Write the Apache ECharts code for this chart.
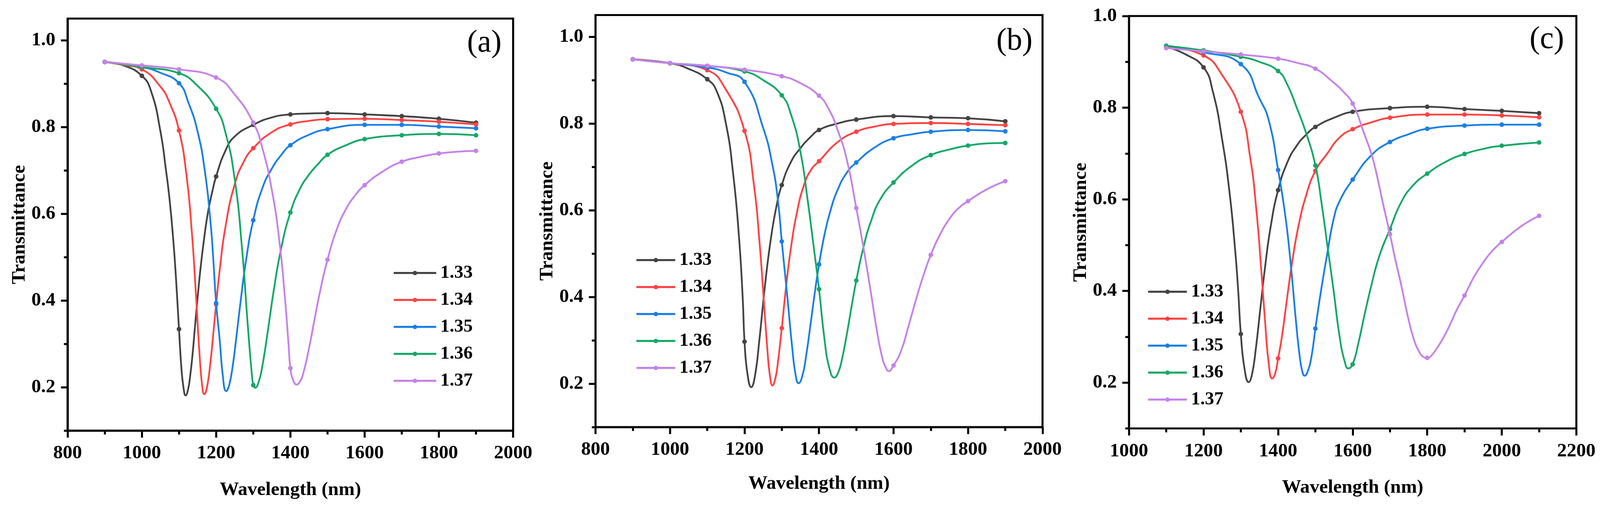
<!DOCTYPE html>
<html>
<head>
<meta charset="utf-8">
<script src="https://cdn.jsdelivr.net/npm/echarts@6.0.0/dist/echarts.min.js"></script>
<style>
html,body{margin:0;padding:0;background:#fff;overflow:hidden;}
#chart{position:absolute;left:0;top:0;}
</style>
</head>
<body>
<div id="chart"></div>
<script>
// ---------- data ----------
const seriesNames = ['1.33', '1.34', '1.35', '1.36', '1.37'];
const panelLabels = ['(a)', '(b)', '(c)'];
const yMajorTicks = [0.2, 0.4, 0.6, 0.8, 1.0];
const yMinorTicks = [0.1, 0.3, 0.5, 0.7, 0.9];
const xMinA = 800, xMaxA = 2000;
const xMinB = 800, xMaxB = 2000;
const xMinC = 1000, xMaxC = 2200;
const yMinAll = 0.1, yMaxA = 1.05, yMaxB = 1.05, yMaxC = 1.0;

// Panel (a)
const a133 = [[900,0.950],[950,0.942],[1000,0.918],[1025,0.882],[1050,0.790],[1065,0.700],[1075,0.630],[1085,0.535],[1092,0.450],[1100,0.334],[1106,0.250],[1112,0.200],[1118,0.181],[1124,0.193],[1130,0.225],[1137,0.280],[1143,0.339],[1150,0.405],[1158,0.474],[1168,0.545],[1178,0.603],[1190,0.652],[1200,0.686],[1225,0.745],[1250,0.778],[1300,0.805],[1350,0.822],[1400,0.829],[1450,0.831],[1500,0.832],[1600,0.829],[1700,0.825],[1800,0.819],[1900,0.810]];
const a134 = [[900,0.950],[950,0.943],[1000,0.933],[1050,0.893],[1075,0.855],[1100,0.792],[1120,0.690],[1135,0.553],[1145,0.423],[1155,0.281],[1162,0.207],[1168,0.184],[1175,0.198],[1185,0.260],[1195,0.347],[1200,0.391],[1210,0.473],[1225,0.569],[1250,0.668],[1275,0.721],[1300,0.751],[1350,0.788],[1400,0.806],[1450,0.814],[1500,0.818],[1600,0.819],[1700,0.816],[1800,0.812],[1900,0.806]];
const a135 = [[900,0.950],[1000,0.938],[1050,0.925],[1100,0.901],[1125,0.857],[1150,0.790],[1170,0.696],[1185,0.580],[1192,0.500],[1200,0.394],[1210,0.306],[1218,0.227],[1227,0.191],[1235,0.204],[1245,0.251],[1255,0.319],[1265,0.391],[1280,0.489],[1300,0.585],[1325,0.660],[1350,0.704],[1375,0.735],[1400,0.758],[1450,0.782],[1500,0.795],[1600,0.805],[1700,0.805],[1800,0.801],[1900,0.797]];
const a136 = [[900,0.950],[1000,0.938],[1100,0.924],[1150,0.895],[1200,0.842],[1225,0.788],[1250,0.680],[1270,0.518],[1285,0.346],[1295,0.242],[1300,0.205],[1305,0.199],[1315,0.213],[1325,0.251],[1340,0.334],[1355,0.422],[1375,0.519],[1400,0.603],[1425,0.656],[1450,0.690],[1475,0.715],[1500,0.736],[1550,0.758],[1600,0.772],[1700,0.781],[1800,0.784],[1900,0.781]];
const a137 = [[900,0.950],[1000,0.942],[1100,0.933],[1200,0.914],[1250,0.875],[1300,0.810],[1325,0.750],[1350,0.655],[1370,0.540],[1385,0.410],[1395,0.300],[1400,0.244],[1408,0.215],[1417,0.206],[1425,0.212],[1435,0.233],[1450,0.289],[1465,0.356],[1480,0.421],[1500,0.494],[1525,0.564],[1550,0.611],[1575,0.643],[1600,0.666],[1650,0.698],[1700,0.720],[1750,0.731],[1800,0.739],[1850,0.743],[1900,0.745]];

// Panel (b)
const b133 = [[900,0.948],[1000,0.939],[1050,0.926],[1100,0.902],[1125,0.875],[1150,0.800],[1170,0.680],[1185,0.540],[1195,0.400],[1200,0.297],[1208,0.222],[1218,0.192],[1228,0.218],[1240,0.302],[1255,0.427],[1270,0.530],[1285,0.606],[1300,0.658],[1325,0.712],[1350,0.743],[1375,0.767],[1400,0.785],[1450,0.800],[1500,0.809],[1600,0.817],[1700,0.814],[1800,0.812],[1900,0.805]];
const b134 = [[900,0.948],[1000,0.939],[1100,0.923],[1150,0.878],[1200,0.783],[1225,0.660],[1240,0.529],[1252,0.389],[1262,0.271],[1268,0.220],[1275,0.196],[1283,0.213],[1290,0.252],[1300,0.328],[1312,0.427],[1325,0.516],[1340,0.592],[1360,0.659],[1380,0.695],[1400,0.713],[1450,0.757],[1500,0.781],[1550,0.793],[1600,0.799],[1700,0.801],[1800,0.799],[1900,0.796]];
const b135 = [[900,0.948],[1000,0.939],[1100,0.929],[1150,0.918],[1200,0.896],[1250,0.790],[1275,0.704],[1290,0.620],[1300,0.528],[1315,0.400],[1328,0.283],[1337,0.221],[1345,0.201],[1355,0.217],[1365,0.262],[1378,0.342],[1390,0.418],[1400,0.475],[1415,0.545],[1430,0.597],[1450,0.647],[1475,0.687],[1500,0.710],[1550,0.745],[1600,0.766],[1650,0.775],[1700,0.781],[1800,0.785],[1900,0.782]];
const b136 = [[900,0.948],[1000,0.939],[1100,0.933],[1200,0.920],[1250,0.900],[1300,0.865],[1325,0.820],[1350,0.735],[1370,0.620],[1385,0.520],[1400,0.418],[1415,0.300],[1428,0.235],[1441,0.214],[1452,0.227],[1462,0.258],[1475,0.316],[1488,0.381],[1500,0.438],[1520,0.517],[1540,0.576],[1565,0.626],[1600,0.664],[1650,0.703],[1700,0.727],[1750,0.740],[1800,0.749],[1850,0.754],[1900,0.755]];
const b137 = [[900,0.948],[1000,0.939],[1100,0.933],[1200,0.924],[1300,0.909],[1350,0.893],[1400,0.864],[1425,0.835],[1450,0.785],[1475,0.715],[1500,0.605],[1520,0.510],[1540,0.406],[1555,0.324],[1570,0.259],[1580,0.236],[1587,0.229],[1600,0.242],[1620,0.275],[1640,0.332],[1660,0.393],[1680,0.449],[1700,0.497],[1725,0.544],[1750,0.580],[1775,0.605],[1800,0.621],[1850,0.648],[1900,0.667]];

// Panel (c)
const c133 = [[1100,0.933],[1150,0.917],[1200,0.888],[1225,0.835],[1250,0.730],[1270,0.613],[1285,0.487],[1293,0.400],[1300,0.306],[1310,0.230],[1321,0.201],[1330,0.218],[1340,0.272],[1352,0.359],[1365,0.452],[1380,0.540],[1400,0.620],[1425,0.681],[1450,0.717],[1475,0.741],[1500,0.758],[1550,0.778],[1600,0.791],[1700,0.799],[1800,0.802],[1900,0.797],[2000,0.793],[2100,0.788]];
const c134 = [[1100,0.933],[1200,0.914],[1250,0.871],[1300,0.791],[1325,0.692],[1342,0.574],[1355,0.444],[1365,0.334],[1375,0.241],[1384,0.209],[1392,0.219],[1400,0.253],[1410,0.299],[1425,0.390],[1440,0.475],[1455,0.543],[1475,0.608],[1500,0.662],[1532,0.700],[1565,0.735],[1600,0.753],[1650,0.768],[1700,0.778],[1800,0.785],[1900,0.785],[2000,0.783],[2100,0.779]];
const c135 = [[1100,0.935],[1200,0.921],[1300,0.895],[1350,0.820],[1375,0.772],[1400,0.664],[1420,0.560],[1435,0.449],[1448,0.333],[1458,0.257],[1465,0.224],[1471,0.215],[1480,0.226],[1490,0.259],[1500,0.318],[1515,0.400],[1532,0.482],[1549,0.557],[1565,0.596],[1600,0.643],[1651,0.697],[1700,0.725],[1750,0.742],[1800,0.754],[1900,0.761],[2000,0.763],[2100,0.763]];
const c136 = [[1100,0.935],[1200,0.925],[1300,0.911],[1350,0.900],[1400,0.880],[1425,0.850],[1450,0.800],[1475,0.745],[1500,0.674],[1516,0.595],[1532,0.500],[1549,0.400],[1565,0.300],[1579,0.245],[1588,0.231],[1600,0.240],[1615,0.285],[1631,0.345],[1648,0.405],[1671,0.475],[1700,0.535],[1731,0.595],[1764,0.632],[1800,0.656],[1850,0.682],[1900,0.699],[1950,0.710],[2000,0.717],[2100,0.724]];
const c137 = [[1100,0.930],[1200,0.923],[1300,0.916],[1400,0.907],[1450,0.898],[1500,0.885],[1550,0.854],[1575,0.835],[1600,0.809],[1631,0.743],[1651,0.697],[1664,0.656],[1681,0.592],[1700,0.524],[1714,0.470],[1731,0.410],[1747,0.348],[1764,0.295],[1780,0.265],[1790,0.256],[1800,0.254],[1810,0.258],[1830,0.280],[1850,0.308],[1863,0.330],[1880,0.360],[1900,0.390],[1925,0.430],[1950,0.462],[1975,0.488],[2000,0.507],[2050,0.540],[2100,0.564]];

// ---------- styles / layout (reference pixel units, 4331 x 1295) ----------
const REF_W = 4331, REF_H = 1295;
const W = window.innerWidth || REF_W, H = window.innerHeight || REF_H;
const sx = W / REF_W, sy = H / REF_H, sf = Math.min(sx, sy);
const X = v => v * sx, Y = v => v * sy, F = v => v * sf;

const colors = ['#444444', '#ff4343', '#1a7fe6', '#14a866', '#c682ea'];
const FONT = 'Liberation Serif';
const AX = '#000';

const panels = [
  { data: [a133, a134, a135, a136, a137], xMin: xMinA, xMax: xMaxA, yMax: yMaxA,
    grid: { left: 183, top: 47.5, width: 1206, height: 1054.5 }, xNameGap: 128,
    legend: { left: 1063, top: 675, itemWidth: 115 }, label: [1311, 111] },
  { data: [b133, b134, b135, b136, b137], xMin: xMinB, xMax: xMaxB, yMax: yMaxB,
    grid: { left: 1612, top: 38.5, width: 1210, height: 1054.5 }, xNameGap: 121,
    legend: { left: 1720, top: 642, itemWidth: 105 }, label: [2746, 106] },
  { data: [c133, c134, c135, c136, c137], xMin: xMinC, xMax: xMaxC, yMax: yMaxC,
    grid: { left: 3056, top: 41, width: 1211, height: 1055.5 }, xNameGap: 127,
    legend: { left: 3105, top: 723, itemWidth: 105 }, label: [4187, 102] }
];

const grids = [], xAxes = [], yAxes = [], series = [], legends = [], graphics = [];
const labelFont = { fontFamily: FONT, fontWeight: 'bold', fontSize: F(52), color: AX };
const nameFont = { fontFamily: FONT, fontWeight: 'bold', fontSize: F(52), color: AX };
const axisW = F(5.5);
const dataW = F(4.8);

panels.forEach((p, i) => {
  grids.push({ show: true, borderColor: AX, borderWidth: axisW, backgroundColor: 'transparent',
    left: X(p.grid.left), top: Y(p.grid.top), width: X(p.grid.width), height: Y(p.grid.height) });
  xAxes.push({
    type: 'value', gridIndex: i, min: p.xMin, max: p.xMax, interval: 200,
    axisLine: { show: true, onZero: false, lineStyle: { color: AX, width: axisW } },
    axisTick: { show: true, inside: false, length: Y(18), lineStyle: { color: AX, width: axisW } },
    minorTick: { show: true, splitNumber: 2, length: Y(10), lineStyle: { color: AX, width: axisW } },
    axisLabel: Object.assign({ margin: Y(34), formatter: v => String(v) }, labelFont),
    splitLine: { show: false }, minorSplitLine: { show: false },
    name: 'Wavelength (nm)', nameLocation: 'middle', nameGap: Y(p.xNameGap), nameTextStyle: nameFont
  });
  yAxes.push({
    type: 'value', gridIndex: i, min: yMinAll, max: p.yMax, position: 'left',
    axisLine: { show: true, onZero: false, lineStyle: { color: AX, width: axisW } },
    axisTick: { show: true, inside: false, length: X(18), customValues: yMajorTicks, lineStyle: { color: AX, width: axisW } },
    axisLabel: Object.assign({ margin: X(33), customValues: yMajorTicks, formatter: v => Number(v).toFixed(1) }, labelFont),
    splitLine: { show: false },
    name: 'Transmittance', nameLocation: 'middle', nameGap: X(104), nameRotate: 90, nameTextStyle: nameFont
  });
  yAxes.push({
    type: 'value', gridIndex: i, min: yMinAll, max: p.yMax, position: 'left', offset: 0,
    axisLine: { show: false },
    axisTick: { show: true, inside: false, length: X(10), customValues: yMinorTicks, lineStyle: { color: AX, width: axisW } },
    axisLabel: { show: false },
    splitLine: { show: false }
  });
  p.data.forEach((d, k) => {
    series.push({
      type: 'line', name: seriesNames[k], xAxisIndex: i, yAxisIndex: 2 * i, data: d,
      smooth: 0.5,
      symbol: 'circle', showSymbol: true, showAllSymbol: true,
      symbolSize: v => (v[0] % 100 === 0 ? F(12.5) : 0),
      lineStyle: { color: colors[k], width: dataW },
      itemStyle: { color: colors[k] },
      emphasis: { disabled: true },
      z: 2 + k
    });
  });
  legends.push({
    orient: 'vertical', left: X(p.legend.left), top: Y(p.legend.top), padding: 0,
    itemWidth: X(p.legend.itemWidth), itemHeight: F(15), itemGap: Y(69) - F(50),
    selectedMode: false, data: seriesNames,
    lineStyle: { width: F(5.5) },
    textStyle: { fontFamily: FONT, fontWeight: 'bold', fontSize: F(50), lineHeight: F(50), color: AX, padding: [0, 0, 0, X(6)] }
  });
  graphics.push({
    type: 'text', x: X(p.label[0]), y: Y(p.label[1]), z: 100,
    style: { text: panelLabels[i], fontFamily: FONT, fontSize: F(84), fill: AX, align: 'center', verticalAlign: 'middle' }
  });
});

const dom = document.getElementById('chart');
dom.style.width = W + 'px';
dom.style.height = H + 'px';
const chart = echarts.init(dom, null, { renderer: 'canvas' });
chart.setOption({
  animation: false,
  backgroundColor: '#fff',
  grid: grids, xAxis: xAxes, yAxis: yAxes, series: series, legend: legends, graphic: graphics
});
</script>
</body>
</html>
